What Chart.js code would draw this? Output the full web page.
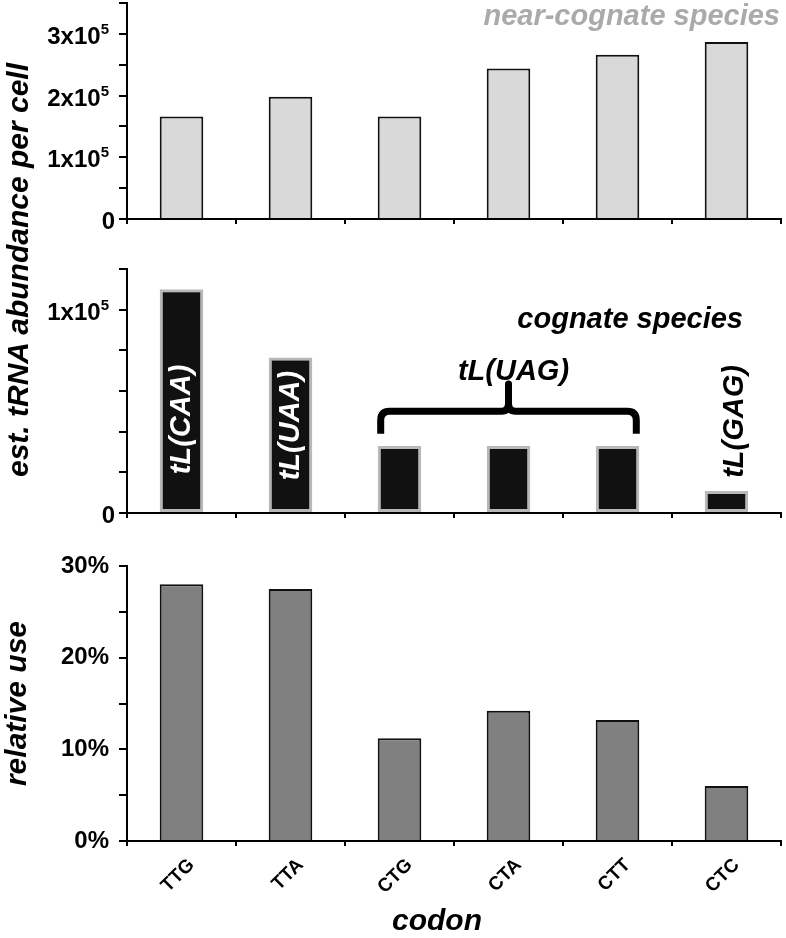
<!DOCTYPE html>
<html>
<head>
<meta charset="utf-8">
<script src="https://cdn.jsdelivr.net/npm/chart.js@4/dist/chart.umd.min.js"></script>
<style>
  body { margin: 0; background: #fff; }
  #wrap { position: relative; width: 786px; height: 938px; }
  canvas { position: absolute; left: 0; }
  #ytitle {
    position: absolute; left: 18px; top: 270px;
    transform: translate(-50%, -50%) rotate(-90deg);
    font: italic bold 30px "Liberation Sans", Arial, sans-serif;
    white-space: nowrap;
  }
</style>
</head>
<body>
<div id="wrap">
  <canvas id="c1" width="786" height="240" style="top:0"></canvas>
  <canvas id="c2" width="786" height="280" style="top:250px"></canvas>
  <canvas id="c3" width="786" height="398" style="top:540px"></canvas>
  <div id="ytitle">est. tRNA abundance per cell</div>
</div>
<script>
const codons = ['TTG', 'TTA', 'CTG', 'CTA', 'CTT', 'CTC'];
const nearCognate = [166000, 198000, 166000, 244000, 266000, 287000];
const cognate = [110000, 76500, 33000, 33000, 33000, 10800];
const relativeUse = [28.0, 27.5, 11.2, 14.2, 13.2, 6.0];
const cognateNames = ['tL(CAA)', 'tL(UAA)', 'tL(UAG)', 'tL(UAG)', 'tL(UAG)', 'tL(GAG)'];
const nearTickLabels = [0, 100000, 200000, 300000];
const cogTickLabels = [0, 100000];

const FONT = '"Liberation Sans", Arial, sans-serif';
Chart.defaults.font.family = FONT;
Chart.defaults.color = '#000';

// y labels like 3x10^5 with a real superscript
const supTicks = {
  id: 'supTicks',
  afterDraw(chart, args, opts) {
    const ctx = chart.ctx, y = chart.scales.y;
    ctx.save();
    ctx.fillStyle = '#000';
    ctx.textAlign = 'right';
    ctx.textBaseline = 'alphabetic';
    opts.values.forEach(v => {
      const py = y.getPixelForValue(v) + 10;
      if (v === 0) {
        ctx.font = 'bold 24px ' + FONT;
        ctx.fillText('0', y.right - 12, py);
        return;
      }
      const exp = Math.floor(Math.log10(v));
      const mant = Math.round(v / Math.pow(10, exp));
      ctx.font = 'bold 15px ' + FONT;
      const w = ctx.measureText(String(exp)).width;
      ctx.fillText(String(exp), y.right - 18, py - 10);
      ctx.font = 'bold 24px ' + FONT;
      ctx.fillText(mant + 'x10', y.right - 18 - w, py);
    });
    ctx.restore();
  }
};

const nearNote = {
  id: 'nearNote',
  afterDraw(chart) {
    const ctx = chart.ctx, a = chart.chartArea, y = chart.scales.y;
    ctx.save();
    ctx.font = 'italic bold 29px ' + FONT;
    ctx.fillStyle = '#aaaaaa';
    ctx.textAlign = 'right';
    ctx.fillText('near-cognate species', a.right - 1, y.getPixelForValue(315000));
    ctx.restore();
  }
};

const cognateNotes = {
  id: 'cognateNotes',
  afterDraw(chart) {
    const ctx = chart.ctx, a = chart.chartArea, x = chart.scales.x, y = chart.scales.y;
    const bars = chart.getDatasetMeta(0).data;
    ctx.save();
    ctx.font = 'italic bold 29px ' + FONT;
    ctx.textBaseline = 'middle';
    ctx.textAlign = 'center';
    const vert = (txt, px, py, col) => {
      ctx.save();
      ctx.translate(px, py);
      ctx.rotate(-Math.PI / 2);
      ctx.fillStyle = col;
      ctx.fillText(txt, 0, 0);
      ctx.restore();
    };
    vert(cognateNames[0], x.getPixelForValue(0), y.getPixelForValue(46000), '#fff');
    vert(cognateNames[1], x.getPixelForValue(1), y.getPixelForValue(43000), '#fff');
    vert(cognateNames[5], x.getPixelForValue(5) + 8, y.getPixelForValue(45000), '#000');

    ctx.fillStyle = '#000';
    ctx.textBaseline = 'alphabetic';
    ctx.fillText(cognateNames[2], x.getPixelForValue(3) + 5, y.getPixelForValue(65500));
    ctx.textAlign = 'right';
    ctx.fillText('cognate species', a.right - 38, y.getPixelForValue(91000));

    // brace over the three tL(UAG) bars
    const L = bars[2].x - bars[2].width / 2 + 3;
    const R = bars[4].x + bars[4].width / 2 - 3;
    const cx = x.getPixelForValue(3);
    const yl = y.getPixelForValue(50000);
    const ye = y.getPixelForValue(39000);
    const yt = y.getPixelForValue(63500);
    ctx.lineWidth = 7;
    ctx.strokeStyle = '#000';
    ctx.lineJoin = 'round';
    ctx.lineCap = 'butt';
    ctx.beginPath();
    ctx.moveTo(L, ye);
    ctx.lineTo(L, yl + 9);
    ctx.quadraticCurveTo(L, yl, L + 9, yl);
    ctx.lineTo(cx - 7, yl);
    ctx.quadraticCurveTo(cx, yl, cx, yl - 8);
    ctx.lineTo(cx, yt);
    ctx.moveTo(cx, yl - 8);
    ctx.quadraticCurveTo(cx, yl, cx + 7, yl);
    ctx.lineTo(R - 9, yl);
    ctx.quadraticCurveTo(R, yl, R, yl + 9);
    ctx.lineTo(R, ye);
    ctx.stroke();
    ctx.beginPath();
    ctx.arc(cx, yt, 3.5, 0, Math.PI * 2);
    ctx.fill();
    ctx.restore();
  }
};

// x title sits a little left of the plot centre in the original
const codonTitle = {
  id: 'codonTitle',
  afterDraw(chart) {
    const ctx = chart.ctx, a = chart.chartArea;
    ctx.save();
    ctx.font = 'italic bold 30px ' + FONT;
    ctx.fillStyle = '#000';
    ctx.textAlign = 'center';
    ctx.textBaseline = 'alphabetic';
    ctx.fillText('codon', (a.left + a.right) / 2 - 17, chart.height - 8);
    ctx.restore();
  }
};

function xAxis(showLabels) {
  return {
    type: 'category',
    offset: true,
    border: { color: '#000', width: 2 },
    grid: { offset: true, drawOnChartArea: false, color: '#000', lineWidth: 2, tickLength: 5 },
    ticks: showLabels
      ? { display: true, autoSkip: false, maxRotation: 45, minRotation: 45, padding: 8, labelOffset: 10,
          font: { size: 19, weight: 'bold' } }
      : { display: false }
  };
}

function yAxis(max, step, cb, size, pad) {
  return {
    min: 0, max: max,
    afterFit: s => { s.width = 127; },
    border: { color: '#000', width: 2 },
    grid: { drawOnChartArea: false, color: '#000', lineWidth: 2, tickLength: 8 },
    ticks: { stepSize: step, autoSkip: false, padding: pad, callback: cb, font: { size: size, weight: 'bold' } }
  };
}

new Chart(document.getElementById('c1'), {
  type: 'bar',
  data: {
    labels: codons,
    datasets: [{
      data: nearCognate, backgroundColor: '#d9d9d9', borderColor: '#111', borderWidth: 2,
      borderSkipped: 'bottom', categoryPercentage: 1, barPercentage: 0.4
    }]
  },
  options: {
    responsive: false, animation: false,
    layout: { padding: { top: 3, bottom: 16, right: 5, left: 0 } },
    plugins: { legend: { display: false }, tooltip: { enabled: false }, supTicks: { values: nearTickLabels } },
    scales: { x: xAxis(false), y: yAxis(350000, 50000, () => '', 1, 0) }
  },
  plugins: [supTicks, nearNote]
});

new Chart(document.getElementById('c2'), {
  type: 'bar',
  data: {
    labels: codons,
    datasets: [{
      data: cognate, backgroundColor: '#111', borderColor: '#b8b8b8', borderWidth: 3,
      borderSkipped: false, categoryPercentage: 1, barPercentage: 0.4
    }]
  },
  options: {
    responsive: false, animation: false,
    layout: { padding: { top: 19, bottom: 12, right: 5, left: 0 } },
    plugins: { legend: { display: false }, tooltip: { enabled: false }, supTicks: { values: cogTickLabels } },
    scales: { x: xAxis(false), y: yAxis(120000, 20000, () => '', 1, 0) }
  },
  plugins: [supTicks, cognateNotes]
});

const xUse = xAxis(true);
xUse.afterFit = s => { s.height = 97; };
const yUse = yAxis(30, 5, v => (v % 10 === 0 ? v + '%' : ''), 24, 10);
yUse.title = { display: true, text: 'relative use', padding: 0, font: { size: 30, weight: 'bold', style: 'italic' } };

new Chart(document.getElementById('c3'), {
  type: 'bar',
  data: {
    labels: codons,
    datasets: [{
      data: relativeUse, backgroundColor: '#808080', borderColor: '#111', borderWidth: 2,
      borderSkipped: 'bottom', categoryPercentage: 1, barPercentage: 0.4
    }]
  },
  options: {
    responsive: false, animation: false,
    layout: { padding: { top: 26, bottom: 0, right: 5, left: 0 } },
    plugins: { legend: { display: false }, tooltip: { enabled: false } },
    scales: { x: xUse, y: yUse }
  },
  plugins: [codonTitle]
});
</script>
</body>
</html>
